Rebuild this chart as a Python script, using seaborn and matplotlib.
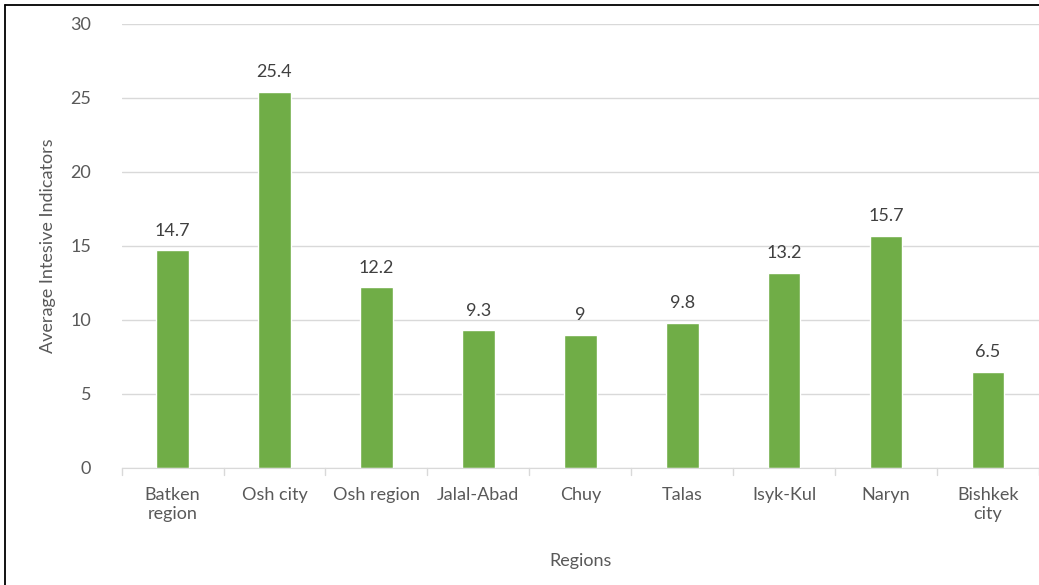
import pandas as pd
import numpy as np
import seaborn as sns
import matplotlib.pyplot as plt
import matplotlib.lines as mylines

## data
regions = ['Batken\nregion', 'Osh city', 'Osh region', 'Jalal-Abad', 'Chuy',
           'Talas', 'Isyk-Kul', 'Naryn', 'Bishkek\ncity']
values = [14.7, 25.4, 12.2, 9.3, 9, 9.8, 13.2, 15.7, 6.5]
value_labels = ['14.7', '25.4', '12.2', '9.3', '9', '9.8', '13.2', '15.7', '6.5']

df = pd.DataFrame({'region': regions, 'value': values})

## setting
sns.set_style('white')
plt.rcParams['font.family'] = ['Lato', 'DejaVu Sans']
plt.rcParams.update({'font.size': 13})

fig, ax = plt.subplots(figsize=(10.39, 5.85), dpi=100)
fig.subplots_adjust(left=0.117, right=1.0, top=0.959, bottom=0.2)

sns.barplot(data=df, x='region', y='value', color='#70AD47', saturation=1,
            width=0.32, ax=ax)

for patch, lab in zip(ax.patches, value_labels):
    ax.text(patch.get_x() + patch.get_width() / 2, patch.get_height() + 0.8, lab,
            ha='center', va='bottom', fontsize=13, color='#404040')

ax.set(yticks=np.arange(0, 35, 5), ylim=[0, 30])
ax.yaxis.grid(True, color='#D9D9D9', linewidth=1)
ax.set_axisbelow(True)
for side in ['top', 'right', 'left']:
    ax.spines[side].set_visible(False)
ax.spines['bottom'].set_color('#D9D9D9')
ax.tick_params(axis='y', length=0, colors='#595959', labelsize=13, pad=22)
ax.tick_params(axis='x', length=0, colors='#595959', labelsize=13, pad=14)
ax.set_xlim(-0.5, len(regions) - 0.5)

# small ticks between categories
for b in np.arange(-0.5, len(regions), 1):
    ax.plot([b, b], [0, -0.5], color='#D9D9D9', linewidth=1, clip_on=False)

ax.set_xlabel('Regions', color='#595959', fontsize=13, labelpad=22)
ax.set_ylabel('Average Intesive Indicators', color='#595959', fontsize=13, labelpad=10)

# border (left and top visible in the crop)
fig.lines.append(mylines.Line2D([0.005, 0.005], [0, 0.992], transform=fig.transFigure,
                                color='black', linewidth=1.3))
fig.lines.append(mylines.Line2D([0.005, 1.0], [0.992, 0.992], transform=fig.transFigure,
                                color='black', linewidth=1.3))

fig.savefig('out.png', dpi=100)
